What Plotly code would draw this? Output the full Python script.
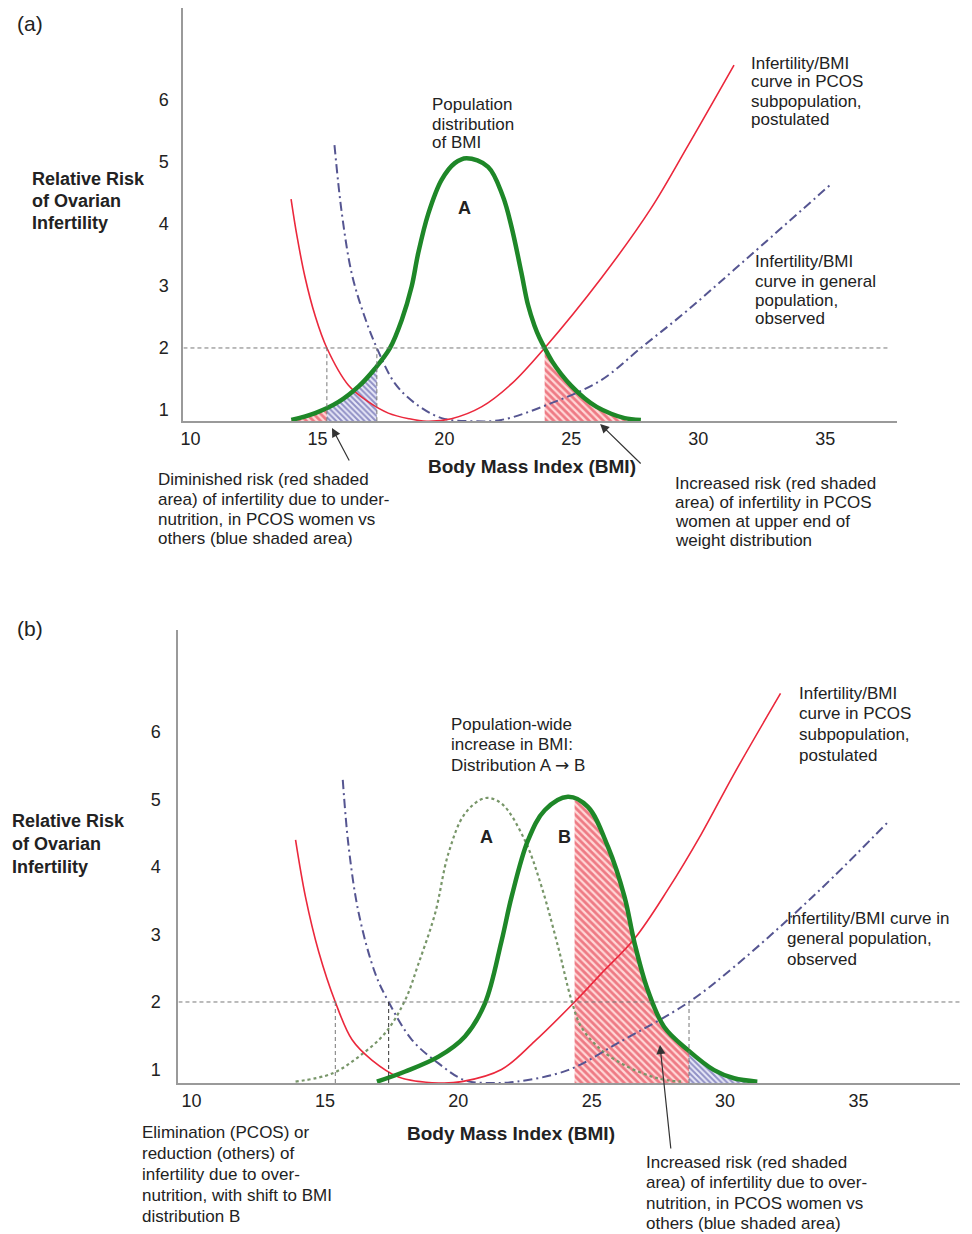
import numpy as np
import plotly.graph_objects as go

W, H = 972, 1234
FONT = "Liberation Sans, Arial, sans-serif"

# ---------------- data ----------------
bmi_ticks = [10, 15, 20, 25, 30, 35]
risk_ticks = [1, 2, 3, 4, 5, 6]
risk_threshold = 2

# Panel (a)
a_pcos_bmi = [13.96, 14.19, 14.51, 14.90, 15.37, 16.22, 17.01, 17.79, 18.6, 19.3, 20.28, 21.46, 22.64, 23.95, 26.17, 28.14, 29.58, 31.41]
a_pcos_risk = [4.40, 3.81, 3.14, 2.53, 2.0, 1.40, 1.13, 0.95, 0.86, 0.82, 0.86, 1.05, 1.42, 2.0, 3.12, 4.25, 5.25, 6.56]

a_gen_bmi = [15.67, 15.96, 16.35, 16.81, 17.34, 18.05, 18.84, 19.89, 21.07, 22.24, 24.21, 26.17, 27.74, 29.44, 31.41, 35.2]
a_gen_risk = [5.27, 4.17, 3.20, 2.56, 2.0, 1.43, 1.11, 0.87, 0.82, 0.84, 1.11, 1.48, 2.0, 2.56, 3.26, 4.63]

a_pop_bmi = [13.97, 14.91, 15.83, 16.62, 17.27, 17.86, 18.32, 18.71, 18.97, 19.37, 19.89, 20.41, 20.87, 21.72, 22.3, 22.64, 23.03, 23.29, 23.55, 23.75, 23.95, 24.25, 24.60, 25.0, 25.52, 26.0, 26.57, 27.1, 27.74]
a_pop_risk = [0.84, 0.95, 1.13, 1.38, 1.67, 2.0, 2.45, 2.99, 3.53, 4.17, 4.71, 4.98, 5.06, 4.92, 4.45, 3.96, 3.22, 2.70, 2.36, 2.16, 2.0, 1.78, 1.58, 1.39, 1.19, 1.05, 0.94, 0.87, 0.84]

a_pcos_low = 15.37
a_gen_low = 17.34
a_pcos_high = 23.95
a_gen_high = 27.74

# Panel (b)
b_pcos_bmi = [13.90, 14.27, 14.77, 15.39, 16.02, 16.76, 17.76, 19.26, 20.13, 21.62, 22.87, 24.36, 25.36, 26.61, 27.85, 29.1, 30.34, 32.08]
b_pcos_risk = [4.40, 3.56, 2.74, 2.0, 1.44, 1.14, 0.89, 0.80, 0.82, 1.0, 1.42, 2.0, 2.42, 2.94, 3.66, 4.48, 5.38, 6.57]

b_gen_bmi = [15.67, 15.89, 16.27, 16.89, 17.39, 18.26, 19.26, 20.25, 21.25, 22.2, 24.11, 25.98, 28.65, 30.34, 32.33, 34.08, 36.07]
b_gen_risk = [5.29, 4.30, 3.31, 2.42, 2.0, 1.44, 1.09, 0.84, 0.80, 0.82, 0.99, 1.39, 2.0, 2.52, 3.21, 3.86, 4.65]

b_popB_bmi = [16.95, 18.01, 19.26, 20.25, 21.0, 21.62, 22.0, 22.62, 23.24, 24.11, 24.86, 25.61, 26.23, 26.61, 27.1, 27.72, 28.6, 29.59, 30.34, 31.21]
b_popB_risk = [0.82, 0.97, 1.19, 1.49, 1.98, 2.90, 3.56, 4.40, 4.84, 5.04, 4.89, 4.30, 3.56, 2.87, 2.18, 1.63, 1.29, 0.99, 0.87, 0.82]

b_popA_bmi = [13.90, 15.27, 16.27, 17.26, 18.01, 18.51, 19.13, 19.63, 20.25, 21.0, 21.62, 22.49, 23.12, 23.74, 24.24, 24.61, 25.36, 26.35, 27.47, 28.35]
b_popA_risk = [0.82, 0.94, 1.19, 1.54, 2.03, 2.57, 3.31, 4.20, 4.79, 5.02, 4.94, 4.40, 3.71, 2.82, 2.03, 1.63, 1.29, 1.04, 0.87, 0.82]

b_pcos_low = 15.39
b_gen_low = 17.39
b_pcos_high = 24.36
b_gen_high = 28.65

# ---------------- styles ----------------
GREEN = "rgb(30,135,40)"
RED = "rgb(235,40,60)"
BLUE = "rgb(85,85,145)"
RED_PAT = dict(shape="\\", fgcolor="rgb(222,30,50)", bgcolor="rgb(255,215,215)", size=5, solidity=0.55)
BLUE_PAT = dict(shape="\\", fgcolor="rgb(55,55,145)", bgcolor="rgb(232,232,248)", size=4, solidity=0.5)


def segment(xs, ys, x0, x1):
    xs = np.asarray(xs, float)
    ys = np.asarray(ys, float)
    inner = (xs > x0) & (xs < x1)
    sx = np.concatenate([[x0], xs[inner], [x1]])
    sy = np.concatenate([[np.interp(x0, xs, ys)], ys[inner], [np.interp(x1, xs, ys)]])
    return sx, sy


fig = go.Figure()


def add_fill(xs, ys, x0, x1, pat, xa, ya):
    sx, sy = segment(xs, ys, x0, x1)
    fig.add_trace(go.Scatter(x=sx, y=sy, mode="lines", line=dict(width=0, shape="spline"),
                             fill="tozeroy", fillcolor=pat["bgcolor"], fillpattern=pat,
                             xaxis=xa, yaxis=ya, hoverinfo="skip", showlegend=False))


def add_line(xs, ys, color, width, xa, ya, dash="solid"):
    fig.add_trace(go.Scatter(x=xs, y=ys, mode="lines",
                             line=dict(color=color, width=width, dash=dash, shape="spline", smoothing=1.0),
                             xaxis=xa, yaxis=ya, hoverinfo="skip", showlegend=False))


DASHDOT = "9px,4px,2px,4px"

# Panel (a)
add_fill(a_pop_bmi, a_pop_risk, a_pop_bmi[0], a_pcos_low, RED_PAT, "x", "y")
add_fill(a_pop_bmi, a_pop_risk, a_pcos_low, a_gen_low, BLUE_PAT, "x", "y")
add_fill(a_pop_bmi, a_pop_risk, a_pcos_high, a_pop_bmi[-1], RED_PAT, "x", "y")
add_line(a_gen_bmi, a_gen_risk, BLUE, 2, "x", "y", DASHDOT)
add_line(a_pcos_bmi, a_pcos_risk, RED, 1.6, "x", "y")
add_line(a_pop_bmi, a_pop_risk, GREEN, 4.5, "x", "y")

# Panel (b)
add_fill(b_popB_bmi, b_popB_risk, b_pcos_high, b_gen_high, RED_PAT, "x2", "y2")
add_fill(b_popB_bmi, b_popB_risk, b_gen_high, b_popB_bmi[-1], BLUE_PAT, "x2", "y2")
add_line(b_popA_bmi, b_popA_risk, "rgb(120,150,105)", 2.2, "x2", "y2", "dot")
add_line(b_gen_bmi, b_gen_risk, BLUE, 2, "x2", "y2", DASHDOT)
add_line(b_pcos_bmi, b_pcos_risk, RED, 1.6, "x2", "y2")
add_line(b_popB_bmi, b_popB_risk, GREEN, 4.5, "x2", "y2")

# ---------------- dashed reference lines ----------------
shapes = []
def dline(xref, yref, x0, y0, x1, y1, color="#777"):
    shapes.append(dict(type="line", xref=xref, yref=yref, x0=x0, y0=y0, x1=x1, y1=y1,
                       line=dict(color=color, width=1, dash="4px,3px")))

dline("x", "y", 9.72, risk_threshold, 37.57, risk_threshold)
dline("x", "y", a_pcos_low, 0.82, a_pcos_low, risk_threshold)
dline("x", "y", a_gen_low, 0.82, a_gen_low, risk_threshold)
dline("x2", "y2", 9.51, risk_threshold, 38.81, risk_threshold)
dline("x2", "y2", b_pcos_low, 0.8, b_pcos_low, risk_threshold)
dline("x2", "y2", b_gen_low, 0.8, b_gen_low, risk_threshold, "#333")
dline("x2", "y2", b_gen_high, 0.8, b_gen_high, risk_threshold)

# ---------------- text ----------------
ann = []

def lines(txts, x, y0, dy, size=17, bold=False):
    for i, t in enumerate(txts):
        ann.append(dict(text=f"<b>{t}</b>" if bold else t, x=x / W, y=1 - (y0 + i * dy) / H,
                        xref="paper", yref="paper", xanchor="left", yanchor="middle",
                        showarrow=False, font=dict(size=size, family=FONT, color="#222")))

def ctext(t, x, y, size=19, bold=True):
    ann.append(dict(text=f"<b>{t}</b>" if bold else t, x=x / W, y=1 - y / H,
                    xref="paper", yref="paper", xanchor="center", yanchor="middle",
                    showarrow=False, font=dict(size=size, family=FONT, color="#222")))

def arrow(hx, hy, tx, ty):
    ann.append(dict(text="", x=hx / W, y=1 - hy / H, xref="paper", yref="paper",
                    ax=tx - hx, ay=ty - hy, showarrow=True, arrowhead=2, arrowsize=1.5,
                    arrowwidth=1.2, arrowcolor="#333", standoff=0))

ARROW_R = "<span style='font-family:DejaVu Sans'>\u2192</span>"

# Panel (a)
lines(["(a)"], 12, 24, 0, size=21)
lines(["Relative Risk", "of Ovarian", "Infertility"], 27, 179, 22, size=18, bold=True)
lines(["Population", "distribution", "of BMI"], 428, 105, 19)
ctext("A", 463, 208, size=18)
lines(["Infertility/BMI", "curve in PCOS", "subpopulation,", "postulated"], 748, 63, 19)
lines(["Infertility/BMI", "curve in general", "population,", "observed"], 752, 262, 19)
ctext("Body Mass Index (BMI)", 531, 467, size=19)
lines(["Diminished risk (red shaded", "area) of infertility due to under-",
       "nutrition, in PCOS women vs", "others (blue shaded area)"], 153, 480, 19.5)
lines(["Increased risk (red shaded", "area) of infertility in PCOS",
       "women at upper end of", "weight distribution"], 672, 483, 19.3)
arrow(330, 428, 348, 462)
arrow(599, 424, 641, 465)

# Panel (b)
lines(["(b)"], 12, 628, 0, size=21)
lines(["Relative Risk", "of Ovarian", "Infertility"], 7, 821, 23, size=18, bold=True)
lines(["Population-wide", "increase in BMI:", "Distribution A " + ARROW_R + " B"], 447, 724, 20.5)
ctext("A", 485, 837, size=18)
ctext("B", 563, 837, size=18)
lines(["Infertility/BMI", "curve in PCOS", "subpopulation,", "postulated"], 796, 693, 20.7)
lines(["Infertility/BMI curve in", "general population,", "observed"], 784, 918, 20.5)
ctext("Body Mass Index (BMI)", 510, 1133, size=19)
lines(["Elimination (PCOS) or", "reduction (others) of", "infertility due to over-",
       "nutrition, with shift to BMI", "distribution B"], 137, 1132, 21)
lines(["Increased risk (red shaded", "area) of infertility due to over-",
       "nutrition, in PCOS women vs", "others (blue shaded area)"], 643, 1162, 20.5)
arrow(659, 1045, 670, 1150)

# ---------------- axes ----------------
def xax(domain, rng, anchor):
    return dict(domain=domain, range=rng, anchor=anchor, tickvals=bmi_ticks,
                ticktext=[str(v) for v in bmi_ticks], showline=True, linecolor="#9a9a9a",
                linewidth=2, showgrid=False, zeroline=False, ticks="", ticklabelstandoff=0,
                tickfont=dict(size=18, family=FONT, color="#222"), fixedrange=True)

def yax(domain, rng, anchor, standoff):
    return dict(domain=domain, range=rng, anchor=anchor, tickvals=risk_ticks,
                ticktext=[str(v) for v in risk_ticks], showline=True, linecolor="#9a9a9a",
                linewidth=2, showgrid=False, zeroline=False, ticks="", ticklabelstandoff=standoff,
                tickfont=dict(size=18, family=FONT, color="#222"), fixedrange=True)

fig.update_layout(
    width=W, height=H, margin=dict(l=0, r=0, t=0, b=0),
    paper_bgcolor="white", plot_bgcolor="white", showlegend=False,
    xaxis=xax([181 / W, 897 / W], [9.72, 37.84], "y"),
    yaxis=yax([1 - 421 / H, 1 - 8 / H], [0.823, 7.48], "x", 9),
    xaxis2=xax([176 / W, 960 / W], [9.51, 38.81], "y2"),
    yaxis2=yax([1 - 1083 / H, 1 - 630 / H], [0.8, 7.51], "x2", 12),
    shapes=shapes, annotations=ann,
)

fig.write_html("out.html", config={"displayModeBar": False},
               post_script="document.body.style.margin='0';document.body.style.overflow='hidden';")
